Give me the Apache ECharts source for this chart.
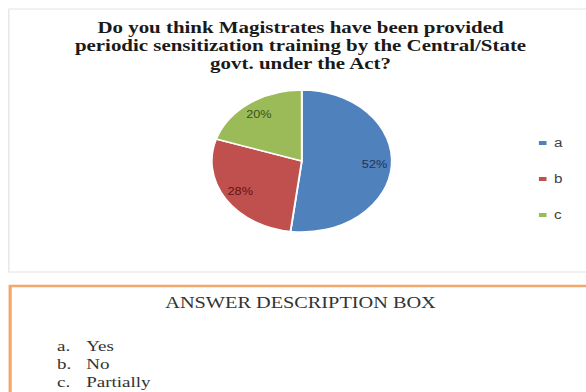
<!DOCTYPE html>
<html>
<head>
<meta charset="utf-8">
<script src="https://cdn.jsdelivr.net/npm/echarts@6/dist/echarts.min.js"></script>
<style>
html,body{margin:0;padding:0;background:#fff;overflow:hidden;width:586px;height:392px;}
#c{width:474px;height:392px;transform:scaleX(1.268);transform-origin:0 0;}
</style>
</head>
<body>
<div id="c"></div>
<script>
const titleText = 'Do you think Magistrates have been provided\nperiodic sensitization training by the Central/State\ngovt. under the Act?';
const categories = ['a', 'b', 'c'];
const values = [52, 28, 20];
const answerHeading = 'ANSWER DESCRIPTION BOX';
const answerLetters = ['a.', 'b.', 'c.'];
const answerTexts = ['Yes', 'No', 'Partially'];

const colors = ['#4f81bd', '#c0504d', '#9bbb59'];
const labelColors = ['#1f3457', '#5e1514', '#3d4f1a'];

const pieData = categories.map((n, i) => ({ name: n, value: values[i], itemStyle: { color: colors[i] } }));
const labelData = categories.map((n, i) => ({ name: n, value: values[i], label: { color: labelColors[i] } }));

const chart = echarts.init(document.getElementById('c'), null, { renderer: 'svg' });
chart.setOption({
  animation: false,
  backgroundColor: '#fff',
  color: colors,
  title: [{
    text: titleText,
    left: 'center',
    top: 13,
    textStyle: { fontFamily: 'Liberation Serif', fontWeight: 'bold', fontSize: 16.5, lineHeight: 18, color: '#1a1a1a' }
  }, {
    text: answerHeading,
    left: 'center',
    top: 290,
    textStyle: { fontFamily: 'Liberation Serif', fontWeight: 'normal', fontSize: 16, lineHeight: 16, color: '#333' }
  }],
  legend: {
    orient: 'vertical',
    left: 418,
    top: 132,
    itemWidth: 8,
    itemHeight: 6,
    itemGap: 24,
    icon: 'rect',
    data: categories,
    textStyle: { fontFamily: 'Liberation Sans', fontSize: 12, color: '#404040' }
  },
  graphic: [
    { type: 'rect', shape: { x: 7, y: 9, width: 480, height: 263 }, style: { fill: 'none', stroke: '#e3e3e3', lineWidth: 1 }, silent: true, z: -1 },
    { type: 'rect', shape: { x: 8, y: 286, width: 480, height: 120 }, style: { fill: 'none', stroke: '#f2a86b', lineWidth: 2.5 }, silent: true, z: -1 },
    { type: 'text', left: 45, top: 337, style: { text: answerLetters.join('\n'), font: '15px "Liberation Serif"', lineHeight: 18, fill: '#333' } },
    { type: 'text', left: 68, top: 337, style: { text: answerTexts.join('\n'), font: '15px "Liberation Serif"', lineHeight: 18, fill: '#333' } }
  ],
  series: [{
    type: 'pie',
    center: [238, 161],
    radius: [0, 71],
    startAngle: 90,
    clockwise: true,
    label: { show: false },
    labelLine: { show: false },
    itemStyle: { borderColor: '#fff', borderWidth: 1.5 },
    emphasis: { disabled: true },
    data: pieData
  }, {
    type: 'pie',
    center: [238, 161],
    radius: [38, 71],
    startAngle: 90,
    clockwise: true,
    silent: true,
    legendHoverLink: false,
    itemStyle: { color: 'transparent', borderWidth: 0 },
    label: { show: true, position: 'inside', formatter: '{d}%', fontFamily: 'Liberation Sans', fontSize: 10 },
    labelLine: { show: false },
    emphasis: { disabled: true },
    data: labelData
  }]
});
</script>
</body>
</html>
